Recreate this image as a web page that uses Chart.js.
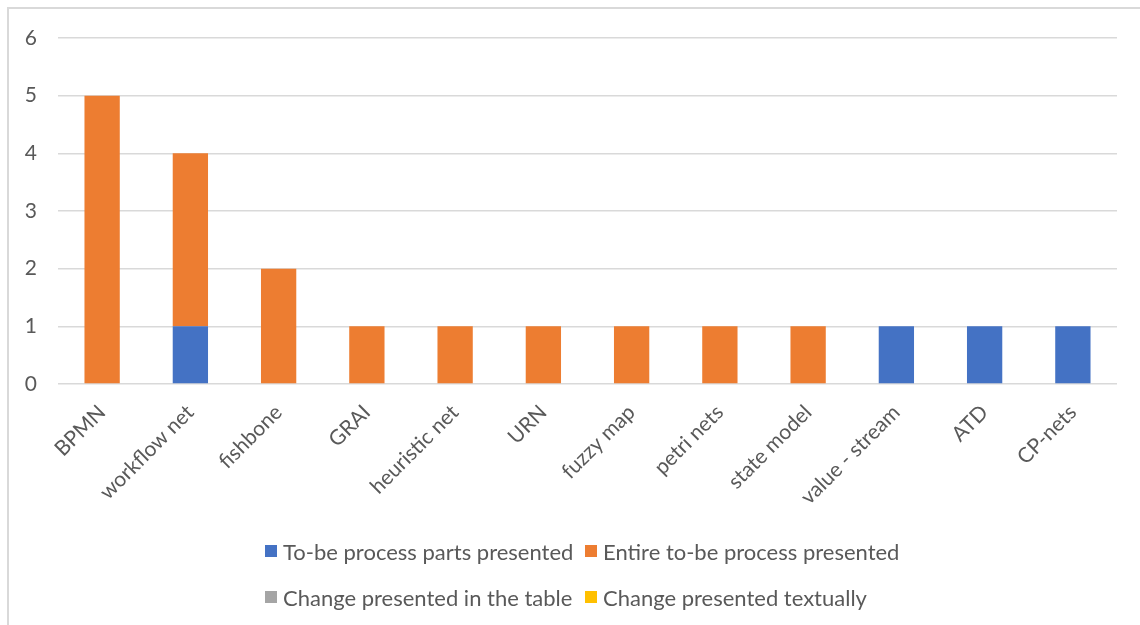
<!DOCTYPE html>
<html>
<head>
<meta charset="utf-8">
<script src="https://cdn.jsdelivr.net/npm/chart.js@4/dist/chart.umd.min.js"></script>
<style>
  html, body { margin: 0; padding: 0; background: #fff; }
  #wrap { position: relative; width: 1140px; height: 625px; overflow: hidden; }
  #frame { position: absolute; left: 7px; top: 7px; right: -10px; bottom: -10px;
           border-left: 2px solid #d9d9d9; border-top: 2px solid #d9d9d9; }
  #chart { position: absolute; left: 0; top: 0; }
  #legend { position: absolute; left: 265px; top: 536px;
            display: grid; grid-template-columns: 320px auto; row-gap: 16px;
            font-family: Lato, "Noto Sans", sans-serif; font-size: 22px; color: #595959; }
  #legend .item { display: flex; align-items: center; height: 30px; white-space: nowrap; }
  #legend .box { width: 12px; height: 12px; margin-right: 6px; }
</style>
</head>
<body>
<div id="wrap">
  <div id="frame"></div>
  <canvas id="chart" width="1140" height="625"></canvas>
  <div id="legend"></div>
</div>
<script>
// categories and series
const categories = ['BPMN', 'workflow net', 'fishbone', 'GRAI', 'heuristic net', 'URN',
  'fuzzy map', 'petri nets', 'state model', 'value - stream', 'ATD', 'CP-nets'];
const partsPresented = [0, 1, 0, 0, 0, 0, 0, 0, 0, 1, 1, 1];
const entirePresented = [5, 3, 2, 1, 1, 1, 1, 1, 1, 0, 0, 0];
const changeInTable = [0, 0, 0, 0, 0, 0, 0, 0, 0, 0, 0, 0];
const changeTextually = [0, 0, 0, 0, 0, 0, 0, 0, 0, 0, 0, 0];
const seriesNames = ['To-be process parts presented', 'Entire to-be process presented',
  'Change presented in the table', 'Change presented textually'];
const yTicks = [0, 1, 2, 3, 4, 5, 6];

const colors = ['#4472C4', '#ED7D31', '#A5A5A5', '#FFC000'];
const seriesData = [partsPresented, entirePresented, changeInTable, changeTextually];
const FONT = 'Lato, "Noto Sans", sans-serif';

const chart = new Chart(document.getElementById('chart'), {
    type: 'bar',
    data: {
        labels: categories,
        datasets: seriesNames.map((name, i) => ({
            label: name,
            data: seriesData[i],
            backgroundColor: colors[i],
            borderWidth: 0,
            barPercentage: 0.4,
            categoryPercentage: 1.0
        }))
    },
    options: {
        responsive: false,
        animation: false,
        layout: {
            padding: { top: 38, left: 0, right: 23, bottom: 0 }
        },
        plugins: {
            legend: { display: false },
            tooltip: { enabled: false }
        },
        scales: {
            x: {
                stacked: true,
                grid: { display: false },
                border: { display: false },
                ticks: {
                    color: '#595959',
                    font: { family: FONT, size: 21 },
                    maxRotation: 45,
                    minRotation: 45,
                    padding: 8,
                    autoSkip: false
                },
                afterFit: (scale) => { scale.height = 241; }
            },
            y: {
                stacked: true,
                min: 0,
                max: 6,
                afterBuildTicks: (scale) => { scale.ticks = yTicks.map(v => ({ value: v })); },
                grid: { color: '#d9d9d9', lineWidth: 1.5, drawTicks: false },
                border: { display: false },
                ticks: {
                    color: '#595959',
                    font: { family: FONT, size: 21 },
                    padding: 21
                },
                afterFit: (scale) => { scale.width = 58; }
            }
        }
    }
});

// legend laid out in two aligned columns like the original
const legendEl = document.getElementById('legend');
chart.data.datasets.forEach(ds => {
    const item = document.createElement('div');
    item.className = 'item';
    const box = document.createElement('span');
    box.className = 'box';
    box.style.background = ds.backgroundColor;
    const txt = document.createElement('span');
    txt.textContent = ds.label;
    item.appendChild(box);
    item.appendChild(txt);
    legendEl.appendChild(item);
});
</script>
</body>
</html>
